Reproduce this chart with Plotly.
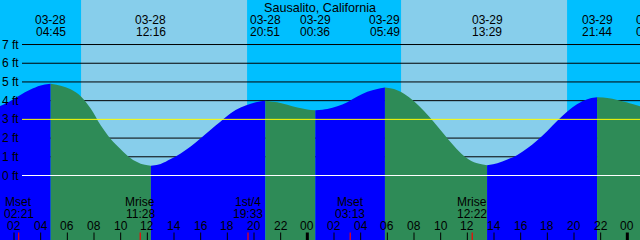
import plotly.graph_objects as go

# ---------------- data ----------------
title = "Sausalito, California"

# tide extremes (labels at top)
tide_dates = ["03-28", "03-28", "03-28", "03-29", "03-29", "03-29", "03-29", "03-30"]
tide_times = ["04:45", "12:16", "20:51", "00:36", "05:49", "13:29", "21:44", "01:48"]

# tide curve: hours since 03-28 00:00, height in ft
curve_hours = [0.95, 1.70, 2.45, 3.20, 4.00, 4.75,
               5.50, 6.25, 7.00, 7.75, 8.50, 9.25, 10.00, 10.75, 11.50, 12.27,
               13.00, 13.75, 14.50, 15.25, 16.00, 16.75, 17.50, 18.25, 19.00, 19.75, 20.50, 20.85,
               21.75, 22.50, 23.25, 24.00, 24.60,
               25.50, 26.25, 27.00, 27.75, 28.50, 29.25, 29.82,
               30.50, 31.25, 32.00, 32.75, 33.50, 34.25, 35.00, 35.75, 36.50, 37.48,
               38.25, 39.00, 39.75, 40.50, 41.25, 42.00, 42.75, 43.50, 44.25, 45.00, 45.73,
               46.50, 47.25, 48.00, 48.95]
curve_ft = [3.71, 3.97, 4.29, 4.58, 4.81, 4.90,
            4.80, 4.61, 4.24, 3.58, 2.68, 1.95, 1.40, 0.92, 0.63, 0.52,
            0.62, 0.88, 1.18, 1.55, 1.99, 2.45, 2.89, 3.33, 3.63, 3.84, 3.97, 4.00,
            3.91, 3.78, 3.63, 3.53, 3.49,
            3.56, 3.70, 3.92, 4.22, 4.47, 4.63, 4.70,
            4.62, 4.37, 3.97, 3.45, 2.84, 2.20, 1.58, 1.04, 0.71, 0.55,
            0.66, 0.85, 1.10, 1.45, 1.88, 2.38, 2.92, 3.42, 3.82, 4.08, 4.18,
            4.14, 4.04, 3.90, 3.70]

# night spans (hours since 03-28 00:00)
night_start = [0.95, 19.48, 43.48]
night_end = [7.03, 31.03, 48.95]

# moon events
moon_names = ["Mset", "Mrise", "1st/4", "Mset", "Mrise"]
moon_times = ["02:21", "11:28", "19:33", "03:13", "12:22"]
moon_days = [28, 28, 28, 29, 29]

# hour ticks
tick_hours = list(range(2, 49, 2))
tick_labels = ["%02d" % (h % 24) for h in tick_hours]

# grid levels (ft)
grid_levels = [0, 1, 2, 3, 4, 5, 6, 7]

# ---------------- styling ----------------
X0, X1 = 0.95, 48.95
Y0, Y1 = -3.447, 9.380
NIGHT = "#00BFFF"
DAY = "#87CEEB"
RISE = "#0000FF"
FALL = "#2E8B57"
FONT = dict(family="Liberation Sans, Arial, sans-serif", size=12, color="black")
TFONT = dict(family="Liberation Sans, Arial, sans-serif", size=12.6, color="black")
H = 240.0


def hrs(day, hhmm):
    hh, mm = hhmm.split(":")
    return (day - 28) * 24 + int(hh) + int(mm) / 60.0


def py(px):
    return 1 - px / H


fig = go.Figure()

# tide fill segments (rising = blue, falling = green)
segs = []
cur = [0]
for i in range(1, len(curve_ft)):
    cur.append(i)
    if i < len(curve_ft) - 1:
        d1 = curve_ft[i] - curve_ft[i - 1]
        d2 = curve_ft[i + 1] - curve_ft[i]
        if d1 * d2 < 0:
            segs.append(cur)
            cur = [i]
segs.append(cur)

for s in segs:
    xs = [curve_hours[i] for i in s]
    ys = [curve_ft[i] for i in s]
    col = RISE if ys[-1] > ys[0] else FALL
    fig.add_trace(go.Scatter(x=xs, y=[Y0 - 2] * len(xs), mode="lines",
                             line=dict(width=0), showlegend=False, hoverinfo="skip"))
    fig.add_trace(go.Scatter(x=xs, y=ys, mode="lines",
                             line=dict(width=0, shape="spline", color=col),
                             fill="tonexty", fillcolor=col,
                             showlegend=False, hoverinfo="skip"))

shapes = []
# night background
for a, b in zip(night_start, night_end):
    shapes.append(dict(type="rect", xref="x", yref="paper", x0=a, x1=b, y0=0, y1=1,
                       fillcolor=NIGHT, line=dict(width=0), layer="below"))
# grid lines
for lv in grid_levels:
    if lv == 3:
        col, layer = "#FFFF00", "above"
    elif lv == 0:
        col, layer = "#FFFFFF", "above"
    else:
        col, layer = "#000000", "below"
    shapes.append(dict(type="line", xref="paper", yref="y", x0=22 / 640.0, x1=1,
                       y0=lv, y1=lv, line=dict(color=col, width=1), layer=layer))
# hour ticks
for h in tick_hours:
    w = 3 if h % 24 == 0 else 1
    shapes.append(dict(type="line", xref="x", yref="paper", x0=h, x1=h,
                       y0=0, y1=7.5 / H, line=dict(color="black", width=w), layer="above"))
# moon ticks
for d, t in zip(moon_days, moon_times):
    h = hrs(d, t)
    shapes.append(dict(type="line", xref="x", yref="paper", x0=h, x1=h,
                       y0=0, y1=7.5 / H, line=dict(color="red", width=1.2), layer="above"))

ann = []
ann.append(dict(text=title, xref="paper", yref="paper", x=0.5, y=py(7.5),
                showarrow=False, xanchor="center", yanchor="middle", font=TFONT))
for dt, tm in zip(tide_dates, tide_times):
    h = hrs(int(dt[3:]), tm)
    if X0 <= h <= X1:
        xr, xv = "x", h
    else:
        xr, xv = "paper", (h - X0) / (X1 - X0)
    ann.append(dict(text=dt, xref=xr, yref="paper", x=xv, y=py(19.5), showarrow=False,
                    xanchor="center", yanchor="middle", font=FONT))
    ann.append(dict(text=tm, xref=xr, yref="paper", x=xv, y=py(31.8), showarrow=False,
                    xanchor="center", yanchor="middle", font=FONT))
for lv in grid_levels:
    ann.append(dict(text="%d ft" % lv, xref="paper", yref="y", x=0.0, y=lv,
                    showarrow=False, xanchor="left", yanchor="middle", font=FONT))
for nm, d, t in zip(moon_names, moon_days, moon_times):
    h = hrs(d, t)
    ann.append(dict(text=nm, xref="x", yref="paper", x=h, y=py(201.7), showarrow=False,
                    xanchor="center", yanchor="middle", font=FONT))
    ann.append(dict(text=t, xref="x", yref="paper", x=h, y=py(213.5), showarrow=False,
                    xanchor="center", yanchor="middle", font=FONT))
for h, lb in zip(tick_hours, tick_labels):
    ann.append(dict(text=lb, xref="x", yref="paper", x=h, y=py(225.7), showarrow=False,
                    xanchor="center", yanchor="middle", font=FONT))

fig.update_layout(
    width=640, height=240,
    margin=dict(l=0, r=0, t=0, b=0),
    paper_bgcolor=DAY, plot_bgcolor=DAY,
    xaxis=dict(range=[X0, X1], visible=False, fixedrange=True),
    yaxis=dict(range=[Y0, Y1], visible=False, fixedrange=True),
    shapes=shapes, annotations=ann, showlegend=False,
)

fig.write_html("out.html")
